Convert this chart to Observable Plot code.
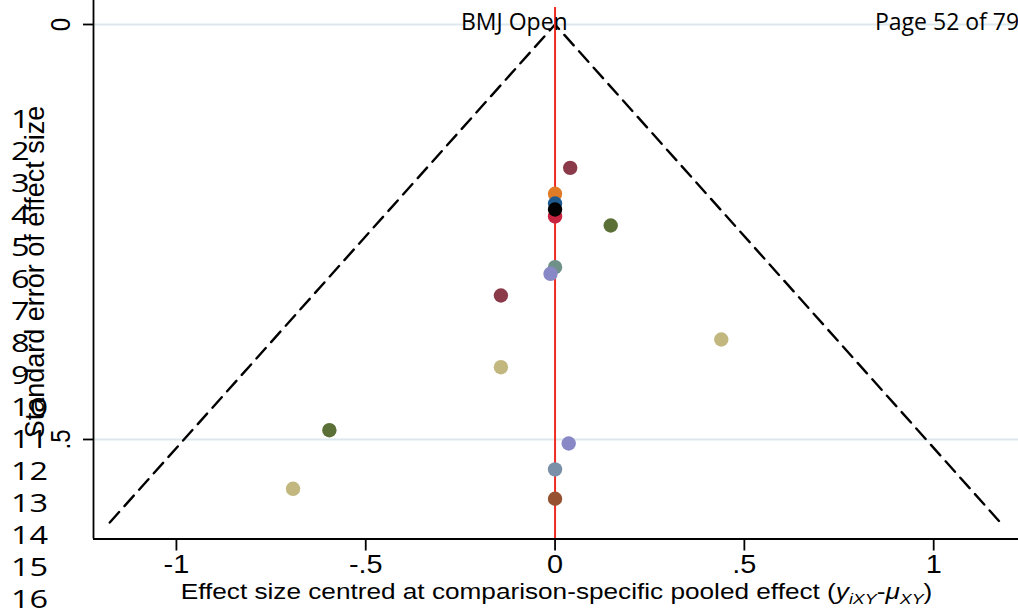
<!DOCTYPE html>
<html><head><meta charset="utf-8">
<script src="https://cdn.jsdelivr.net/npm/d3@7"></script>
<script src="https://cdn.jsdelivr.net/npm/@observablehq/plot@0.6"></script>
<style>
html,body{margin:0;padding:0;background:#fff;}
#wrap{position:relative;width:1018px;height:610px;overflow:hidden;}
</style></head>
<body><div id="wrap"></div>
<script>
// ---- data ----
const studyEffect = [0.040, 0, 0, 0, 0, 0.147, 0, -0.012, -0.143, 0.439, -0.143, -0.596, 0.036, 0, -0.692, 0];
const studySE     = [0.1727, 0.204, 0.2157, 0.2313, 0.2229, 0.2422, 0.2924, 0.3004, 0.3265, 0.3795, 0.4129, 0.4888, 0.5048, 0.5361, 0.5594, 0.5714];
const studyColor  = ["#8b3a4a", "#e07b27", "#1f5a8e", "#c8233f", "#000000", "#5a7036", "#6f918a", "#8888c6", "#8b3a4a", "#c1b77f", "#c1b77f", "#5a7036", "#8888c6", "#7990a8", "#c1b77f", "#965230"];
const xTicks = [-1, -0.5, 0, 0.5, 1];
const xTickLabels = ["-1", "-.5", "0", ".5", "1"];
const yTicks = [0, 0.5];
const yTickLabels = ["0", ".5"];
const gridSE = [0, 0.5];
const funnelSide = [-1, 0, 1];
const funnelSE = [0.6, 0, 0.6];
const lineNumbers = [1,2,3,4,5,6,7,8,9,10,11,12,13,14,15,16];
const xDomain = [-1.219, 1.224];
const yDomain = [-0.0289, 0.6199];

const points = studyEffect.map((e, i) => ({x: e, se: studySE[i], c: studyColor[i]}));
const funnel = funnelSide.map((s, i) => ({x: s * 1.96 * funnelSE[i], se: funnelSE[i]}));

const svgFont = "'Liberation Sans', Arial, sans-serif";
const chart = Plot.plot({
  width: 1018, height: 610,
  marginLeft: 93, marginRight: 0, marginTop: 0, marginBottom: 71.5,
  style: {fontFamily: svgFont, fontSize: "24px", background: "white", color: "#000"},
  x: {domain: xDomain},
  y: {domain: yDomain, reverse: true},
  marks: [
    Plot.ruleY(gridSE, {stroke: "#dde8ec", strokeWidth: 2.2}),
    Plot.line(funnel, {x: "x", y: "se", stroke: "#000", strokeWidth: 2.4, strokeDasharray: "14,8"}),
    Plot.ruleX([0], {y1: -0.0205, y2: yDomain[1], stroke: "#ee2c24", strokeWidth: 2}),
    Plot.dot(points, {x: "x", y: "se", r: 7.2, fill: "c", stroke: null}),
    Plot.ruleX([xDomain[0]], {stroke: "#000", strokeWidth: 1.8}),
    Plot.ruleY([yDomain[1]], {stroke: "#000", strokeWidth: 1.8}),
    Plot.axisX({ticks: xTicks, tickFormat: d => xTickLabels[xTicks.indexOf(d)], tickSize: 12, tickPadding: 4, stroke: "#000", strokeWidth: 1.8, label: null, fontSize: 26}),
    Plot.axisY({ticks: yTicks, tickFormat: () => "", tickSize: 10, stroke: "#000", strokeWidth: 1.8, label: null}),
    Plot.text(yTicks, {x: xDomain[0], y: d => d, text: d => yTickLabels[yTicks.indexOf(d)], rotate: -90, dx: -33, textAnchor: "middle", lineAnchor: "middle", fontSize: 24})
  ]
});
document.getElementById("wrap").appendChild(chart);

// horizontal stretch of the graph's own lettering
d3.select(chart).selectAll("text").each(function() {
  const t = this.getAttribute("transform") || "";
  const sc = /rotate\(-90\)/.test(t) ? "scale(1,1.19)" : "scale(1.11,1)";
  this.setAttribute("transform", `${t} ${sc}`);
});

const svg = d3.select(chart);
// x title
const tt = svg.append("text").attr("text-anchor", "middle").attr("font-size", 22)
  .attr("transform", "translate(556.5,599) scale(1.19,1)");
tt.append("tspan").text("Effect size centred at comparison-specific pooled effect (");
tt.append("tspan").attr("font-style", "italic").text("y");
tt.append("tspan").attr("font-style", "italic").attr("font-size", 15).attr("dy", 5).text("iXY");
tt.append("tspan").attr("dy", -5).text("-");
tt.append("tspan").attr("font-style", "italic").text("\u03bc");
tt.append("tspan").attr("font-style", "italic").attr("font-size", 15).attr("dy", 5).text("XY");
tt.append("tspan").attr("dy", -5).text(")");
// y title
svg.append("text").attr("text-anchor", "middle").attr("font-size", 27).attr("dy", "0.35em")
  .attr("transform", "translate(34,272) rotate(-90) scale(1,1.05)")
  .text("Standard error of effect size");
// page artefacts
const pageFont = "'Open Sans', 'Noto Sans', sans-serif";
svg.append("text").attr("x", 461).attr("y", 30).attr("text-anchor", "start").attr("font-family", pageFont).attr("font-size", 23).text("BMJ Open");
svg.append("text").attr("x", 875).attr("y", 30).attr("text-anchor", "start").attr("font-family", pageFont).attr("font-size", 23).text("Page 52 of 79");
svg.append("g").attr("font-family", pageFont).attr("font-size", 26).attr("text-anchor", "start")
  .selectAll("text").data(lineNumbers).join("text")
  .attr("transform", (d, i) => `translate(11,${128 + 32 * i}) scale(1.25,1)`).text(d => d);
</script>
</body></html>
